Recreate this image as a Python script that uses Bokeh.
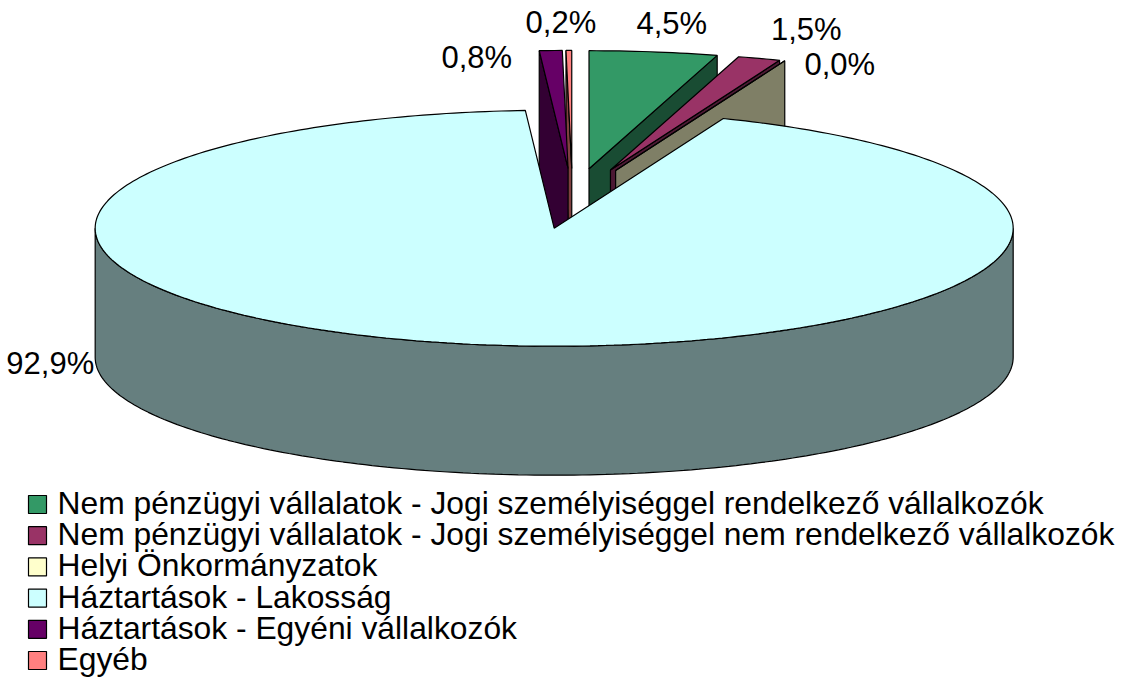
import math
import numpy as np
from bokeh.plotting import figure
from bokeh.models import Range1d, ColumnDataSource
from bokeh.embed import file_html
from bokeh.resources import INLINE
from bokeh.core.properties import value

# ---------------- data ----------------
categories = [
    "Nem pénzügyi vállalatok - Jogi személyiséggel rendelkező vállalkozók",
    "Nem pénzügyi vállalatok - Jogi személyiséggel nem rendelkező vállalkozók",
    "Helyi Önkormányzatok",
    "Háztartások - Lakosság",
    "Háztartások - Egyéni vállalkozók",
    "Egyéb",
]
shares = [4.5, 1.5, 0.0, 92.9, 0.8, 0.2]
top_colors = ["#339966", "#993366", "#FFFFCC", "#CCFFFF", "#660066", "#FF8080"]
label_texts = [f"{v:.1f}".replace(".", ",") + "%" for v in shares]

# ---------------- style / geometry ----------------
W, H = 1126, 680
CX, CY = 572.0, 198.0     # pie centre (page px)
RX, RY = 459.0, 118.0     # ellipse radii
DEPTH = 129.0             # thickness of the pie
EXPLODE = 0.255           # explosion as fraction of radius
label_dx = [18, 47, 55, -432, -74, -8]
label_dy = [-28, -29, 4, 19, 7, -28]
FONT = "Liberation Sans"


def darker(hexcol, f=0.5):
    h = hexcol.lstrip("#")
    r, g, b = (int(h[i:i + 2], 16) for i in (0, 2, 4))
    return "#%02x%02x%02x" % (int(r * f), int(g * f), int(b * f))


def pt(cx, cy, ang):
    a = math.radians(ang)
    return cx + RX * math.sin(a), cy - RY * math.cos(a)


total = sum(shares)
cum = np.concatenate([[0.0], np.cumsum(shares)]) / total * 360.0

slices = []
for i in range(len(shares)):
    a0, a1 = cum[i], cum[i + 1]
    mid = 0.5 * (a0 + a1)
    m = math.radians(mid)
    cx = CX + EXPLODE * RX * math.sin(m)
    cy = CY - EXPLODE * RY * math.cos(m)
    slices.append(dict(i=i, a0=a0, a1=a1, mid=mid, cx=cx, cy=cy))

xs, ys, fills = [], [], []


def add_poly(px, py, col):
    xs.append(list(px))
    ys.append(list(py))
    fills.append(col)


def arc(cx, cy, a0, a1, dy=0.0):
    n = max(2, int(abs(a1 - a0)) + 2)
    angs = np.linspace(a0, a1, n)
    px = [cx + RX * math.sin(math.radians(a)) for a in angs]
    py = [cy - RY * math.cos(math.radians(a)) + dy for a in angs]
    return px, py


for s in sorted(slices, key=lambda d: d["cy"]):
    i, a0, a1, cx, cy = s["i"], s["a0"], s["a1"], s["cx"], s["cy"]
    top = top_colors[i]
    side = darker(top)
    # radial face at start angle
    if math.sin(math.radians(a0)) < -1e-9:
        ox, oy = pt(cx, cy, a0)
        add_poly([cx, ox, ox, cx], [cy, oy, oy + DEPTH, cy + DEPTH], side)
    # radial face at end angle
    if math.sin(math.radians(a1)) > 1e-9:
        ox, oy = pt(cx, cy, a1)
        add_poly([cx, ox, ox, cx], [cy, oy, oy + DEPTH, cy + DEPTH], side)
    # outer curved side (front half only)
    lo, hi = max(a0, 90.0), min(a1, 270.0)
    if hi > lo:
        tx, ty = arc(cx, cy, lo, hi)
        bx, by = arc(cx, cy, lo, hi, DEPTH)
        add_poly(tx + bx[::-1], ty + by[::-1], side)
    # top face
    tx, ty = arc(cx, cy, a0, a1)
    add_poly([cx] + tx, [cy] + ty, top)

p = figure(width=W, height=H, x_range=Range1d(0, W), y_range=Range1d(H, 0),
           toolbar_location=None, output_backend="svg", min_border=0)
p.axis.visible = False
p.grid.visible = False
p.outline_line_color = None
p.background_fill_color = "white"
p.border_fill_color = "white"

p.patches(xs="xs", ys="ys", fill_color="fill", line_color="black", line_width=1.2,
          source=ColumnDataSource(dict(xs=xs, ys=ys, fill=fills)))

# data labels
lx, ly = [], []
for s in slices:
    ax, ay = pt(s["cx"], s["cy"], s["mid"])
    lx.append(ax + label_dx[s["i"]])
    ly.append(ay + label_dy[s["i"]])
p.text(x=lx, y=ly, text=label_texts, text_font=value(FONT), text_font_size=value("31px"),
       text_align="center", text_baseline="alphabetic", text_color="black")

# legend
LEG_Y0, LEG_DY = 504.0, 31.2
leg_y = [LEG_Y0 + k * LEG_DY for k in range(len(categories))]
p.rect(x=[37] * len(categories), y=leg_y, width=18, height=18, fill_color=top_colors,
       line_color="black", line_width=1.2)
p.text(x=[57] * len(categories), y=[v - 1.5 for v in leg_y], text=categories,
       text_font=value(FONT), text_font_size=value("31.8px"), text_align="left",
       text_baseline="alphabetic", text_color="black")

open("out.html", "w").write(file_html(p, INLINE))
